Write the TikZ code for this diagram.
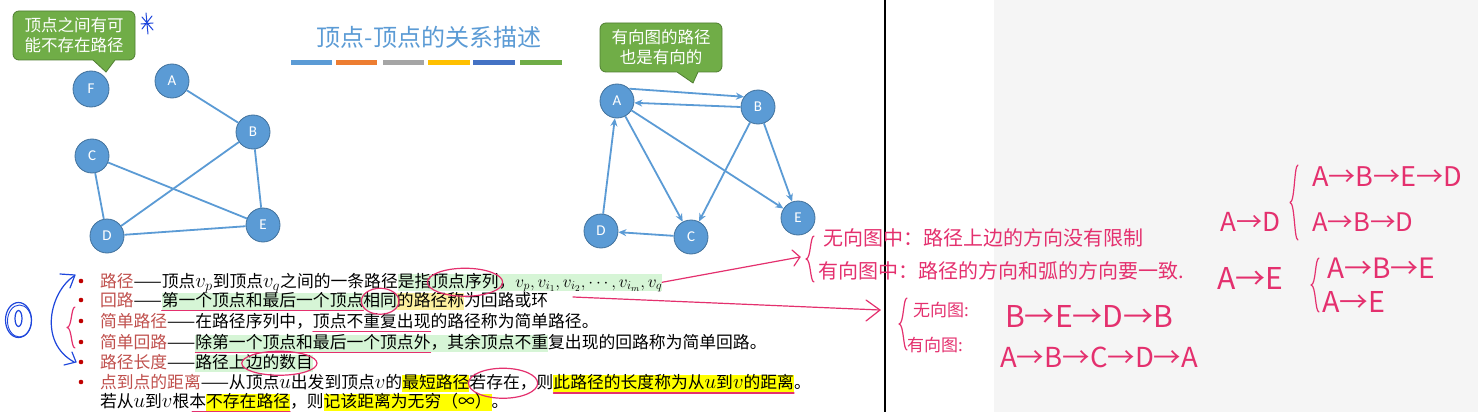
\documentclass[tikz,border=0pt]{standalone}
\usepackage{fontspec}
\setmainfont{Noto Sans CJK SC}
\newfontfamily\latf{Carlito}
\usetikzlibrary{arrows.meta,calc}
\definecolor{nodeblue}{RGB}{91,155,213}
\definecolor{nodeedge}{RGB}{65,113,156}
\definecolor{callg}{RGB}{112,173,71}
\definecolor{callgd}{RGB}{80,126,50}
\definecolor{term}{RGB}{192,80,77}
\definecolor{bul}{RGB}{192,0,0}
\definecolor{hlg}{RGB}{214,245,214}
\definecolor{hlyl}{RGB}{252,240,160}
\definecolor{hly}{RGB}{255,255,0}
\definecolor{hw}{RGB}{228,48,110}
\definecolor{hwb}{RGB}{30,70,220}
\definecolor{bggray}{RGB}{245,245,245}
\definecolor{barA}{RGB}{91,155,213}
\definecolor{barB}{RGB}{237,125,49}
\definecolor{barC}{RGB}{165,165,165}
\definecolor{barD}{RGB}{255,192,0}
\definecolor{barE}{RGB}{68,114,196}
\definecolor{barF}{RGB}{112,173,71}
\newcommand\hbrace[3]{%
 \draw[hwline] ({#1+4},#2) .. controls ({#1},#2) and ({#1+1},{(#2+#3)/2}) .. ({#1-4},{(#2+#3)/2}) .. controls ({#1+1},{(#2+#3)/2}) and ({#1},#3) .. ({#1+4},#3);}
\newcommand\mth[1]{{\fontsize{20}{22}\selectfont$#1$}}
\begin{document}
\begin{tikzpicture}[x=1pt,y=-1pt,
  gnode/.style={circle, fill=nodeblue, draw=nodeedge, line width=0.8pt, minimum size=34pt, inner sep=0pt, text=white, font=\latf\fontsize{15}{18}\selectfont},
  uedge/.style={draw=nodeblue, line width=1.8pt},
  dedge/.style={draw=nodeblue, line width=1.8pt, -{Stealth[length=8pt,width=7pt]}},
  callout/.style={fill=callg, draw=callgd, line width=0.8pt},
  calltext/.style={text=white, align=center, font=\fontsize{16.5}{20.5}\selectfont},
  seg/.style={anchor=base west, inner sep=0pt, outer sep=0pt, text height=13.5pt, text depth=4pt, font=\fontsize{16.8}{20}\selectfont},
  hwline/.style={draw=hw, line width=1.2pt, line cap=round, line join=round},
  hwtext/.style={text=hw, anchor=west, inner sep=0pt},
  bluehw/.style={draw=hwb, line width=1.2pt, line cap=round, line join=round}]
\useasboundingbox (0,0) rectangle (1478,412);
\fill[white] (0,0) rectangle (994,412);
\fill[bggray] (994,0) rectangle (1478,412);
\draw[black, line width=1.5pt] (885,0) -- (885,412);

% title and bars
\node[font=\fontsize{24}{28}\selectfont, text=nodeblue] (title) at (429,37) {顶点-顶点的关系描述};
\fill[barA] (291,60) rectangle (332,65);
\fill[barB] (336,60) rectangle (377,65);
\fill[barC] (383,60) rectangle (424,65);
\fill[barD] (428,60) rectangle (470,65);
\fill[barE] (473,60) rectangle (515,65);
\fill[barF] (520,60) rectangle (562,65);

% callouts
\draw[callout, rounded corners=6pt] (13,11) -- (135,11) -- (135,60) [sharp corners] -- (115,60) -- (106,72) -- (93,60) [rounded corners=6pt] -- (13,60) -- cycle;
\node[calltext] (call1) at (74,35) {顶点之间有可\\能不存在路径};
\draw[callout, rounded corners=6pt] (600,23) -- (722,23) -- (722,72) [sharp corners] -- (698,72) -- (693,83) -- (677,72) [rounded corners=6pt] -- (600,72) -- cycle;
\node[calltext] (call2) at (661,47) {有向图的路径\\也是有向的};

% blue asterisk
\draw[bluehw, line width=1pt] (146,13) -- (148,34) (142,17) -- (153,30) (152,16) -- (142,29) (141,24) -- (153,23);

% undirected graph
\node[gnode, minimum size=36pt] (F) at (91,89) {F};
\node[gnode] (A) at (172,81) {A};
\node[gnode] (B) at (253,132) {B};
\node[gnode] (C) at (92,156) {C};
\node[gnode] (D) at (107,236) {D};
\node[gnode] (E) at (263,225) {E};
\draw[uedge] (A) -- (B);
\draw[uedge] (B) -- (D);
\draw[uedge] (B) -- (E);
\draw[uedge] (C) -- (D);
\draw[uedge] (C) -- (E);
\draw[uedge] (D) -- (E);

% directed graph
\node[gnode] (dA) at (617,101) {A};
\node[gnode] (dB) at (758,107) {B};
\node[gnode] (dC) at (691,237) {C};
\node[gnode] (dD) at (601,231) {D};
\node[gnode] (dE) at (798,218) {E};
\draw[dedge] (dA.45) -- (dB.144);
\draw[dedge] (dB.180) -- (dA.-6);
\draw[dedge] (dA) -- (dC);
\draw[dedge] (dA) -- (dE);
\draw[dedge] (dB) -- (dC);
\draw[dedge] (dB) -- (dE);
\draw[dedge] (dC) -- (dD);
\draw[dedge] (dD) -- (dA);

% bullets
\foreach \yy in {281,300,321,342,362,382} \fill[bul] (81,\yy) circle (2.3pt);

% line 1
\node[seg] (l1a) at (100,287) {\textcolor{term}{路径}——顶点\mth{v_p}到顶点\mth{v_q}之间的一条路径};
\node[seg, fill=hlg] (l1b) at (l1a.base east) {是指};
\node[seg, fill=hlg] (l1c) at (l1b.base east) {顶点序列};
\node[seg, fill=hlg] (l1d) at (l1c.base east) {，{\fontsize{18.5}{20}\selectfont$v_p,v_{i_1},v_{i_2},\cdots,v_{i_m},v_q$}\hspace{6pt}};
% line 2
\node[seg] (l2a) at (100,306) {\textcolor{term}{回路}——};
\node[seg, fill=hlg] (l2b) at (l2a.base east) {第一个顶点和最后一个顶点};
\node[seg, fill=hlg] (l2c) at (l2b.base east) {相同};
\node[seg, fill=hlyl] (l2d) at (l2c.base east) {的路径称};
\node[seg] (l2e) at (l2d.base east) {为回路或环};
% line 3
\node[seg] (l3a) at (100,327) {\textcolor{term}{简单路径}——在路径序列中，};
\node[seg] (l3b) at (l3a.base east) {顶点不重复出现};
\node[seg] (l3c) at (l3b.base east) {的路径称为简单路径。};
% line 4
\node[seg] (l4a) at (100,348) {\textcolor{term}{简单回路}——};
\node[seg, fill=hlg] (l4b) at (l4a.base east) {除第一个顶点和最后一个顶点外};
\node[seg, fill=hlg] (l4c) at (l4b.base east) {，其余顶点不重};
\node[seg] (l4d) at (l4c.base east) {复出现的回路称为简单回路。};
% line 5
\node[seg] (l5a) at (100,368) {\textcolor{term}{路径长度}——};
\node[seg, fill=hlg] (l5b) at (l5a.base east) {路径上};
\node[seg, fill=hlg] (l5c) at (l5b.base east) {边的数目};
% line 6
\node[seg] (l6a) at (100,388) {\textcolor{term}{点到点的距离}——从顶点\mth{u}出发到顶点\mth{v}的};
\node[seg, fill=hly] (l6b) at (l6a.base east) {最短路径};
\node[seg] (l6c) at (l6b.base east) {若存在，};
\node[seg] (l6d) at (l6c.base east) {则};
\node[seg, fill=hly] (l6e) at (l6d.base east) {此路径的长度称为从\mth{u}到\mth{v}的距离};
\node[seg] (l6f) at (l6e.base east) {。};
% line 7
\node[seg] (l7a) at (100,407) {若从\mth{u}到\mth{v}根本};
\node[seg, fill=hly] (l7b) at (l7a.base east) {不存在路径};
\node[seg] (l7c) at (l7b.base east) {，则};
\node[seg, fill=hly] (l7d) at (l7c.base east) {记该距离为无穷（∞）};
\node[seg] (l7e) at (l7d.base east) {。};

% pink circles and underlines on the text
\draw[hwline] let \p1=(l1c.west), \p2=(l1c.east) in (l1c.center) ellipse [x radius={(\x2-\x1)/2+4pt}, y radius=14pt];
\draw[hwline] let \p1=(l2c.west), \p2=(l2c.east) in (l2c.center) ellipse [x radius={(\x2-\x1)/2+2pt}, y radius=13pt];
\draw[hwline] let \p1=(l5c.west), \p2=(l5c.east) in (l5c.center) ellipse [x radius={(\x2-\x1)/2+4pt}, y radius=12pt];
\draw[hwline] let \p1=(l6c.west), \p2=(l6c.east) in (l6c.center) ellipse [x radius={(\x2-\x1)/2+1pt}, y radius=15pt];
\draw[hwline] ([yshift=-0.5pt]l2b.south west) -- ([yshift=-0.5pt]l2b.south east);
\draw[hwline] ([yshift=-0.5pt]l3b.south west) -- ([yshift=-0.5pt]l3b.south east);
\draw[hwline] ([yshift=-0.5pt]l4b.south west) -- ([yshift=-0.5pt]l4b.south east);
\draw[hwline] ([yshift=-1pt]l6e.south west) -- ([yshift=-1pt]l6e.south east);
\draw[hwline] ([xshift=-14pt,yshift=-1pt]l7b.south west) -- ([yshift=-1pt]l7b.south east);

% blue handwriting at left
\draw[bluehw] (18.5,320) ellipse [x radius=13pt, y radius=17.5pt];
\draw[bluehw, line width=0.9pt] (19.5,321) ellipse [x radius=12pt, y radius=16pt];
\draw[bluehw] (18.5,318.5) ellipse [x radius=3.5pt, y radius=8pt];
\draw[bluehw] (60,274) -- (75,275) -- (70,288);
\draw[bluehw] (74,276) .. controls (50,292) and (38,342) .. (74,362);
\draw[bluehw] (64,365) -- (76,362) -- (72,352);
\hbrace{71}{307}{348}

% pink arrows and notes
\coordinate (arr1e) at (800,257);
\draw[hwline] (l1d.east) -- (arr1e);
\draw[hwline] (792,250) -- (arr1e) -- (794,266);
\coordinate (a2s) at (573,297);
\coordinate (a2e) at (880,310);
\draw[hwline] (a2s) -- (a2e);
\draw[hwline] (866,300) -- (a2e) -- (866,321);
\hbrace{810}{236}{282}
\node[hwtext, font=\fontsize{20}{22}\selectfont] (n1) at (823,238) {无向图中：路径上边的方向没有限制};
\node[hwtext, font=\fontsize{20}{22}\selectfont] (n2) at (818,271) {有向图中：路径的方向和弧的方向要一致.};
\hbrace{903}{298}{350}
\node[hwtext, font=\fontsize{17}{20}\selectfont] (n3) at (913,310) {无向图:};
\node[hwtext, font=\fontsize{17}{20}\selectfont] (n4) at (907,345) {有向图:};
\node[hwtext] (p1) at (1005,316) {\resizebox{168pt}{!}{B→E→D→B}};
\node[hwtext] (p2) at (1000,357) {\resizebox{198pt}{!}{A→B→C→D→A}};
\node[hwtext] (p3) at (1312,177) {\resizebox{150pt}{!}{A→B→E→D}};
\node[hwtext] (p4) at (1220,222) {\resizebox{60pt}{!}{A→D}};
\node[hwtext] (p5) at (1312,222) {\resizebox{101pt}{!}{A→B→D}};
\node[hwtext] (p6) at (1217,278) {\resizebox{66pt}{!}{A→E}};
\node[hwtext] (p7) at (1327,268) {\resizebox{108pt}{!}{A→B→E}};
\node[hwtext] (p8) at (1322,302) {\resizebox{63pt}{!}{A→E}};
\hbrace{1294}{165}{240}
\hbrace{1315}{258}{312}
\end{tikzpicture}
\end{document}
